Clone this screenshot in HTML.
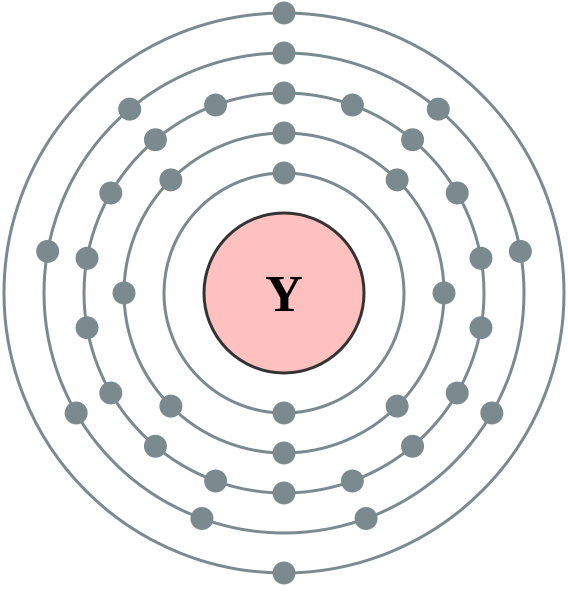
<!DOCTYPE html>
<html>
<head>
<meta charset="utf-8">
<style>
  html,body{margin:0;padding:0;background:#fff;}
  svg{display:block;}
</style>
</head>
<body>
<svg id="chart" width="568" height="593" viewBox="0 0 568 593" xmlns="http://www.w3.org/2000/svg">
  <g id="shells"></g>
  <g id="electrons"></g>
  <circle cx="284" cy="293" r="80" fill="#ffc0c0" stroke="#333333" stroke-width="3"/>
  <text x="284" y="311" text-anchor="middle" font-family="'Liberation Serif', serif" font-weight="bold" font-size="52" fill="#000">Y</text>
</svg>
<script>
const shellRadii = [120, 160, 200, 240, 280];
const electronCounts = [2, 8, 18, 9, 2];
const cx = 284, cy = 293;
const NS = 'http://www.w3.org/2000/svg';
const shellsG = document.getElementById('shells');
const elG = document.getElementById('electrons');
shellRadii.forEach(function(r, i){
  const c = document.createElementNS(NS, 'circle');
  c.setAttribute('cx', cx); c.setAttribute('cy', cy); c.setAttribute('r', r);
  c.setAttribute('fill', 'none'); c.setAttribute('stroke', '#7a8a8e'); c.setAttribute('stroke-width', '3');
  
  
  shellsG.appendChild(c);
  const n = electronCounts[i];
  for (let k = 0; k < n; k++) {
    const a = 2 * Math.PI * k / n;
    const e = document.createElementNS(NS, 'circle');
    e.setAttribute('cx', cx + r * Math.sin(a));
    e.setAttribute('cy', cy - r * Math.cos(a));
    e.setAttribute('r', 11.5);
    e.setAttribute('fill', '#7a8a8e');
    
    
    elG.appendChild(e);
  }
});
</script>
</body>
</html>
